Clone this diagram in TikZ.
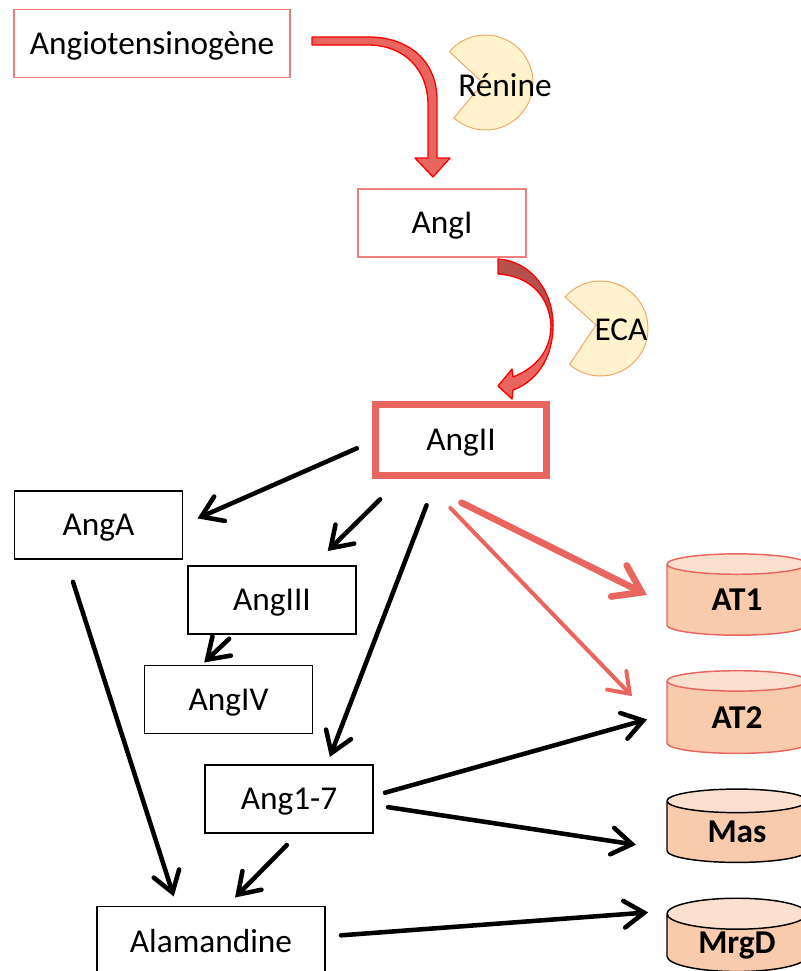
\documentclass[tikz,border=0pt]{standalone}
\usepackage{fontspec}
\setmainfont{Carlito}
\usetikzlibrary{arrows.meta,shapes.geometric}
\definecolor{rouge}{HTML}{E9655F}
\definecolor{rougeclair}{HTML}{EF7F7B}
\definecolor{rougesombre}{HTML}{B5504C}
\definecolor{enzyme}{HTML}{FFF2CC}
\definecolor{enzymebord}{HTML}{F4A460}
\definecolor{recepteur}{HTML}{F8CBAD}
\definecolor{recepteurhaut}{HTML}{FBE0D0}
\tikzset{
	boite/.style={draw=black,line width=1pt,inner sep=0pt,outer sep=0pt,minimum width=126pt,minimum height=51pt,text depth=0pt},
	boiterouge/.style={boite,draw=rougeclair},
	cible/.style={shape=cylinder,shape border rotate=90,aspect=.4,draw=black,line width=1.1pt,cylinder uses custom fill,cylinder body fill=recepteur,cylinder end fill=recepteurhaut,inner sep=0pt,outer sep=0pt,minimum width=105pt,text height=16pt,text depth=0pt,font=\fontsize{25}{30}\selectfont\bfseries},
	fleche/.style={line width=3.4pt,line cap=round,-{Straight Barb[length=15pt,width=20pt,line cap=round]}},
	flecherouge/.style={line cap=round,draw=rouge},
	enzymeforme/.style={fill=enzyme,draw=enzymebord,line width=.7pt},
	bloc/.style={fill=rouge,draw=red,line width=1pt,line join=round}
}
\begin{document}
\begin{tikzpicture}[x=.75pt,y=.75pt,yscale=-1,font=\fontsize{25}{30}\selectfont]
	\useasboundingbox (0,0) rectangle (800,971);
	% enzymes
	\draw[enzymeforme] (485.5,82.5)++(220.5:47.5) arc[start angle=220.5,end angle=491.7,radius=47.5] -- (483,83) -- cycle;
	\draw[enzymeforme] (600.5,328.5)++(221.5:47.5) arc[start angle=221.5,end angle=490.8,radius=47.5] -- (596,325) -- cycle;
	% boites
	\node[boiterouge,minimum width=207pt] (angiotensinogene) at (152,43.5) {Angiotensinogène};
	\node[boiterouge] (angI) at (442,223) {AngI};
	\node[boite,draw=rouge,line width=5.3pt,minimum width=128pt,minimum height=53pt] (angII) at (461,440) {AngII};
	\node[boite] (angA) at (98.5,525) {AngA};
	\node[boite] (angIII) at (272,600) {AngIII};
	\node[boite] (angIV) at (228.5,699.5) {AngIV};
	\node[boite] (ang17) at (289,799) {Ang1-7};
	\node[boite,minimum width=171pt] (alamandine) at (211,940.5) {Alamandine};
	\node (renine) at (505,85) {Rénine};
	\node (eca) at (621,330) {ECA};
	% recepteurs
	\node[cible,draw=rouge,minimum height=61pt] (at1) at (737,600) {AT1};
	\node[cible,draw=rouge,minimum height=62pt] (at2) at (737,717.5) {AT2};
	\node[cible,minimum height=55pt] (mas) at (737,832) {Mas};
	\node[cible,minimum height=55pt] (mrgd) at (737,943) {MrgD};
	% fleches courbes
	\draw[bloc] (312,37) -- (368,37) .. controls (410,37) and (437,62) .. (437,100) -- (437,158) -- (450,158) -- (433,177) -- (415,158) -- (428,158) -- (428,105) .. controls (428,68) and (403,45) .. (368,45) -- (312,45) -- cycle;
	\draw[bloc] (553,325) .. controls (553,360) and (535,382) .. (513,390) -- (512,399) -- (498,386) -- (512,369) -- (513,377) .. controls (535,368) and (551,352) .. (551,325) -- cycle;
	\draw[bloc,fill=rougesombre] (498,259) .. controls (530,261) and (553,290) .. (553,325) -- (551,325) .. controls (549,296) and (530,276) .. (498,274) -- cycle;
	% fleches noires
	\draw[fleche,shorten <=15.5pt,shorten >=12.3pt] (angII.west) -- (angA.east);
	\draw[fleche,shorten <=25.7pt,shorten >=16pt] (angII.212) -- (angIII.40);
	\draw[fleche,shorten <=5.3pt,shorten >=3.3pt] (angIII.222) -- (angIV.129);
	\draw[fleche,shorten <=24pt,shorten >=6.5pt] (angII.237.5) -- (ang17.42.7);
	\draw[fleche,shorten <=18pt,shorten >=7.9pt] (angA.226) -- (alamandine.135.2);
	\draw[fleche,shorten <=12.7pt,shorten >=9.5pt] (ang17.286.4) -- (alamandine.66.5);
	\draw[fleche,shorten <=9.3pt,shorten >=15.5pt] (ang17.2.5) -- (at2.177);
	\draw[fleche,shorten <=11.4pt,shorten >=23.5pt] (ang17.356.9) -- (mas.194.3);
	\draw[fleche,shorten <=12pt,shorten >=15pt] (alamandine.2.7) -- (mrgd.155.2);
	% fleches rouges
	\draw[flecherouge,line width=5pt,-{Straight Barb[length=19pt,width=26pt,line cap=round]},shorten <=46pt,shorten >=16.8pt] (angII.213.6) -- (at1.184);
	\draw[flecherouge,line width=3pt,-{Straight Barb[length=14pt,width=20pt,line cap=round]},shorten <=34pt,shorten >=37.7pt] (angII.220.5) -- (at2.192);
\end{tikzpicture}
\end{document}
